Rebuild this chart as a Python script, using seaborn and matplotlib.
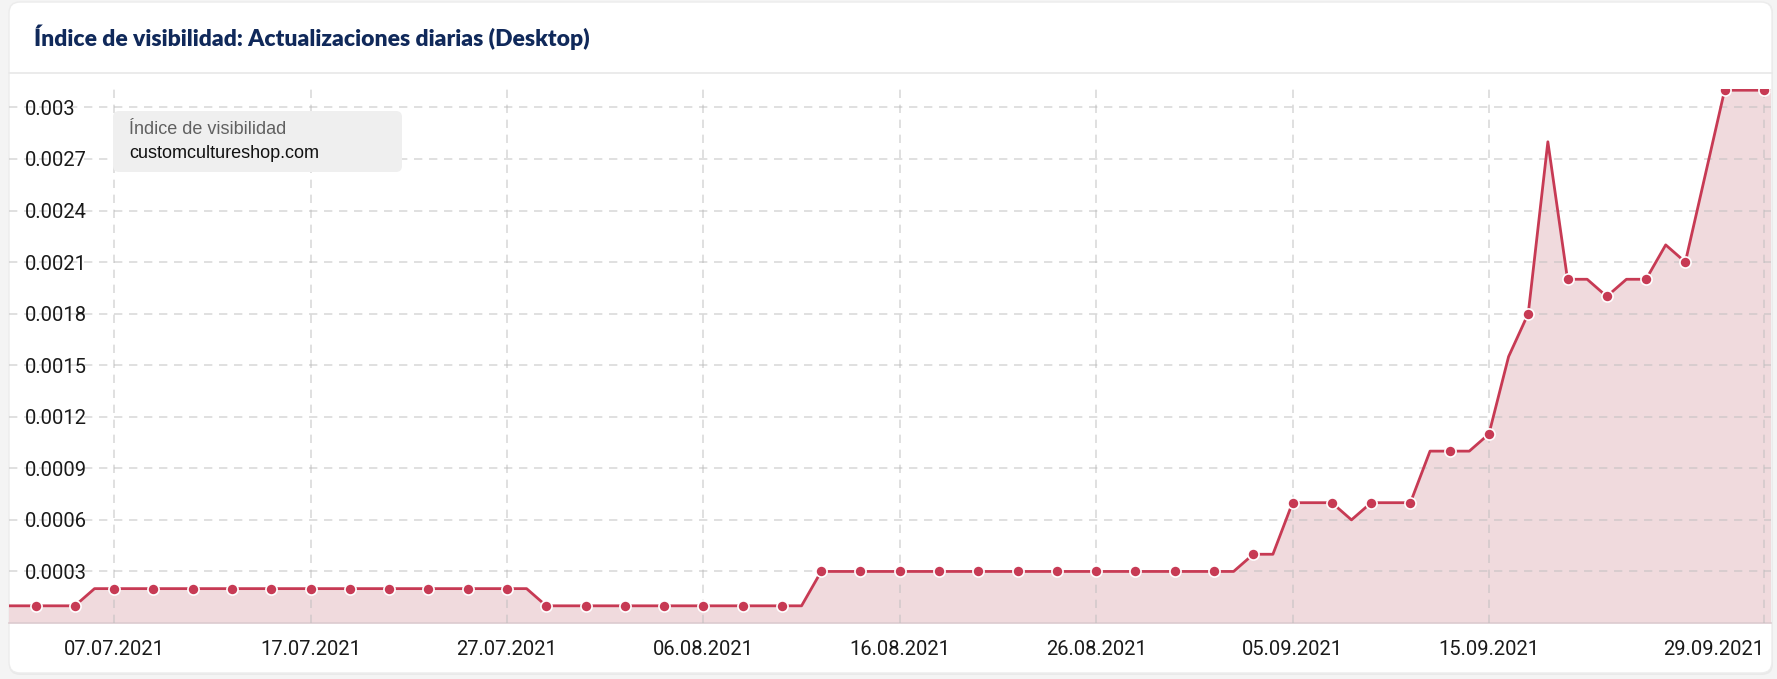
import pandas as pd
import matplotlib.pyplot as plt
import seaborn as sns
from matplotlib.patches import FancyBboxPatch
from matplotlib.lines import Line2D

# Daily visibility index values
july = [0.0001, 0.0001, 0.0001, 0.0001, 0.0001, 0.0002, 0.0002, 0.0002, 0.0002, 0.0002,
        0.0002, 0.0002, 0.0002, 0.0002, 0.0002, 0.0002, 0.0002, 0.0002, 0.0002, 0.0002,
        0.0002, 0.0002, 0.0002, 0.0002, 0.0002, 0.0002, 0.0002, 0.0002, 0.0001, 0.0001,
        0.0001]
august = [0.0001, 0.0001, 0.0001, 0.0001, 0.0001, 0.0001, 0.0001, 0.0001, 0.0001, 0.0001,
          0.0001, 0.0003, 0.0003, 0.0003, 0.0003, 0.0003, 0.0003, 0.0003, 0.0003, 0.0003,
          0.0003, 0.0003, 0.0003, 0.0003, 0.0003, 0.0003, 0.0003, 0.0003, 0.0003, 0.0003,
          0.0003]
september = [0.0003, 0.0003, 0.0004, 0.0004, 0.0007, 0.0007, 0.0007, 0.0006, 0.0007, 0.0007,
             0.0007, 0.0010, 0.0010, 0.0010, 0.0011, 0.00155, 0.0018, 0.0028, 0.0020, 0.0020,
             0.0019, 0.0020, 0.0020, 0.0022, 0.0021, 0.0026, 0.0031, 0.0031, 0.0031, 0.0031]

dates = pd.date_range("2021-07-01", "2021-09-30", freq="D")
df = pd.DataFrame({"date": dates, "value": july + august + september})

tick_dates = ["2021-07-07", "2021-07-17", "2021-07-27", "2021-08-06", "2021-08-16",
              "2021-08-26", "2021-09-05", "2021-09-15", "2021-09-29"]
tick_labels = ["07.07.2021", "17.07.2021", "27.07.2021", "06.08.2021", "16.08.2021",
               "26.08.2021", "05.09.2021", "15.09.2021", "29.09.2021"]
y_ticks = [0.0003, 0.0006, 0.0009, 0.0012, 0.0015, 0.0018, 0.0021, 0.0024, 0.0027, 0.003]
y_labels = ["0.0003", "0.0006", "0.0009", "0.0012", "0.0015", "0.0018", "0.0021",
            "0.0024", "0.0027", "0.003"]

title = "Índice de visibilidad: Actualizaciones diarias (Desktop)"
legend_title = "Índice de visibilidad"
domain = "customcultureshop.com"

line_color = "#c73a54"
fill_color = "#f0dadd"

sns.set_theme(style="white")
plt.rcParams["font.family"] = ["Roboto", "DejaVu Sans"]

W, H = 1777, 679
fig = plt.figure(figsize=(W / 100, H / 100), dpi=100, facecolor="#f4f4f4")

# card background with a soft edge
shadow = FancyBboxPatch((9, H - 675), 1764, 673, boxstyle="round,pad=0,rounding_size=11",
                        transform=None, facecolor="#e9e9e9", edgecolor="none", zorder=0)
card = FancyBboxPatch((9, H - 673), 1763, 671, boxstyle="round,pad=0,rounding_size=11",
                      transform=None, facecolor="white", edgecolor="#ececec", lw=1, zorder=0)
fig.add_artist(shadow)
fig.add_artist(card)
fig.add_artist(Line2D([9 / W, 1772 / W], [1 - 73 / H, 1 - 73 / H], color="#e8e8e8", lw=1.2))

fig.text(34 / W, 1 - 46 / H, title, fontsize=16.5, fontweight="heavy", family=["Lato", "DejaVu Sans"],
         color="#10295a", va="baseline", ha="left")

ax = fig.add_axes([9 / W, 56 / H, (1771 - 9) / W, (623 - 88.5) / H])
ax.patch.set_alpha(0)

ax.fill_between(df["date"], df["value"], color=fill_color, lw=0, zorder=1)
sns.lineplot(data=df, x="date", y="value", ax=ax, color=line_color, lw=2.0,
             marker="o", markersize=8, markeredgecolor="white", markeredgewidth=1.2,
             markevery=2, zorder=3)

ax.set_xlim(pd.Timestamp("2021-07-01 15:30"), pd.Timestamp("2021-09-29 08:40"))
ax.set_ylim(0, 0.00311)

ax.set_xticks(pd.to_datetime(tick_dates))
ax.set_xticklabels(tick_labels)
ax.set_yticks(y_ticks)
ax.set_yticklabels(y_labels)

ax.grid(True, axis="both", color="#bdbdbd", alpha=0.55, lw=1.2, linestyle=(0, (5, 4)), zorder=2)
ax.set_axisbelow(False)

for s in ["top", "left", "right"]:
    ax.spines[s].set_visible(False)
ax.spines["bottom"].set_color("#dccbcf")
ax.spines["bottom"].set_linewidth(1.2)

ax.tick_params(axis="x", length=0, pad=12, labelsize=14.5, labelcolor="#1a1a1a")
ax.tick_params(axis="y", length=0, pad=-11.5, labelsize=14.5, labelcolor="#1a1a1a")
for lab in ax.get_yticklabels():
    lab.set_horizontalalignment("left")
    lab.set_zorder(5)
ax.get_xticklabels()[-1].set_horizontalalignment("right")
ax.set_xlabel("")
ax.set_ylabel("")

# legend box top-left
leg_box = FancyBboxPatch((113, H - 172), 289, 61, boxstyle="round,pad=0,rounding_size=6",
                         transform=None, facecolor="#efefef", edgecolor="none", zorder=6)
fig.add_artist(leg_box)
fig.text(129 / W, 1 - 129 / H, legend_title, fontsize=13, color="#606060",
         family=["Liberation Sans", "DejaVu Sans"], va="center", ha="left", zorder=7)
fig.text(129 / W, 1 - 154 / H, domain, fontsize=13, color="#111111",
         family=["Liberation Sans", "DejaVu Sans"], va="center", ha="left", zorder=7)

fig.savefig("out.png", dpi=100, facecolor=fig.get_facecolor())
